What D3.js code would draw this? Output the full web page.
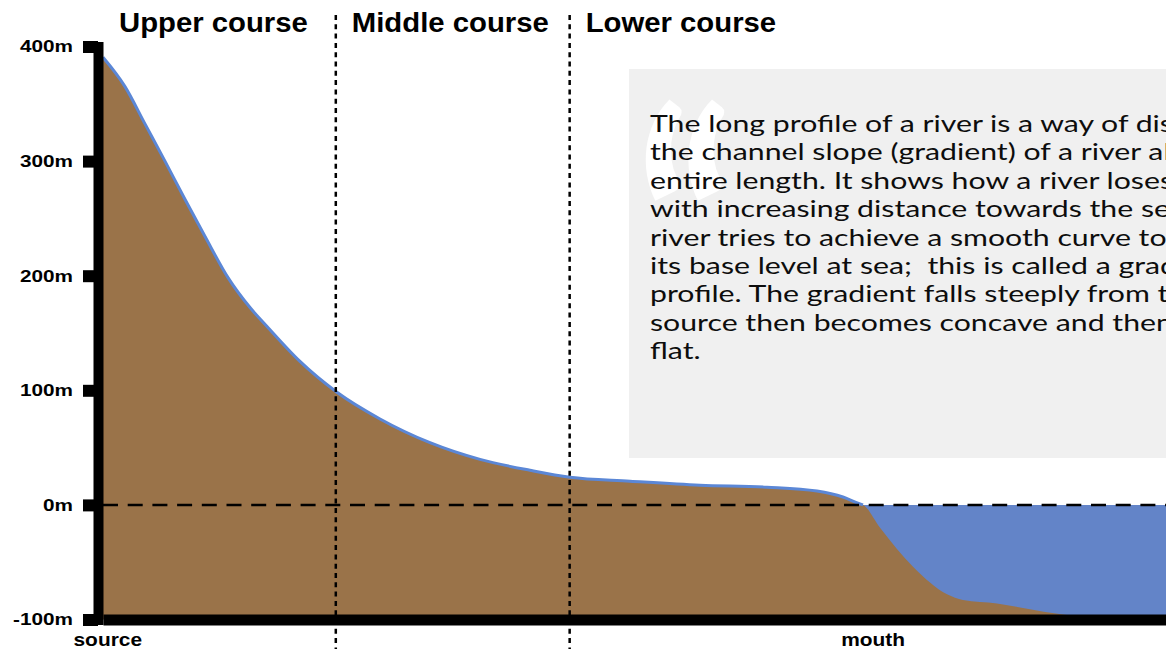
<!DOCTYPE html>
<html><head><meta charset="utf-8">
<script src="https://cdn.jsdelivr.net/npm/d3@7"></script>
<style>
html,body{margin:0;padding:0;background:#fff;overflow:hidden}
svg{display:block}
</style></head><body>
<svg id="chart" width="1166" height="649"></svg>
<script>
// ---- data ----
const distance  = [0, 2.07, 3.95, 5.83, 7.71, 9.60, 11.76, 13.83, 15.43, 18.53, 22.01, 26.06, 30.76, 35.47, 40.17, 43.93, 49.58, 56.16, 62.46, 67.17, 69.61, 71.21, 71.5, 73.1, 76.2, 79.4, 80.9, 84.1, 87.2, 89.8, 93.8, 100];
const elevation = [390.6, 365, 332.5, 300, 266.7, 234.2, 198.3, 172.2, 155.7, 125.2, 98.3, 75, 54.3, 39.7, 30.2, 24.1, 20.7, 17.2, 15.5, 12.1, 6.9, 0.9, 0, -20, -54, -78, -83, -86, -91, -95, -99, -100];
const seaLevel = 0;
const yTickValues = [400, 300, 200, 100, 0, -100];
const yTickLabels = ["400m", "300m", "200m", "100m", "0m", "-100m"];
const xLabelPositions = [0.4, 72.4];
const xLabelTexts = ["source", "mouth"];
const courseNames = ["Upper course", "Middle course", "Lower course"];
const courseStarts = [0, 21.9, 43.9];
const courseBoundaries = [21.9, 43.9];
const quoteLines = [
  "The long profile of a river is a way of displaying",
  "the channel slope (gradient) of a river along its",
  "entire length. It shows how a river loses height",
  "with increasing distance towards the sea. The",
  "river tries to achieve a smooth curve to reach",
  "its base level at sea;  this is called a graded",
  "profile. The gradient falls steeply from the",
  "source then becomes concave and then almost",
  "flat."
];

// ---- setup ----
const svg = d3.select("#chart");
const W = 1166, H = 649;
const x = d3.scaleLinear().domain([0, 100]).range([103, 1166]);
const y = d3.scaleLinear().domain([-100, 400]).range([619.5, 46.5]);
const pts = distance.map((d, i) => ({d, e: elevation[i]}));
const boldFont = "'Liberation Sans', Arial, Helvetica, sans-serif";

function stretch(sel, f) {
  sel.each(function() {
    const w = this.getComputedTextLength();
    d3.select(this).attr("textLength", w * f).attr("lengthAdjust", "spacingAndGlyphs");
  });
}

// annotation box
svg.append("rect").attr("x", 629).attr("y", 69).attr("width", W - 629).attr("height", 389).attr("fill", "#f0f0f0");
svg.append("g").attr("transform", "translate(635,350) scale(0.8,1)")
  .append("text").attr("x", 0).attr("y", 0)
  .attr("font-family", "Lato, sans-serif").attr("font-weight", 700)
  .attr("font-size", 321).attr("fill", "#ffffff").text("\u201C");
const paraLines = svg.selectAll("text.para").data(quoteLines).join("text").attr("class", "para")
  .attr("x", 650).attr("y", (d, i) => 132 + i * 28.4)
  .attr("font-family", "Lato, 'Open Sans', sans-serif")
  .attr("font-size", 24).attr("fill", "#0d0d0d")
  .attr("xml:space", "preserve").style("white-space", "pre").text(d => d);
stretch(paraLines, 1.26);

// sea
const seaPts = pts.filter(p => p.e <= seaLevel);
svg.append("path").datum(seaPts)
  .attr("fill", "#6384c8")
  .attr("d", d3.area().x(p => x(p.d)).y0(y(-100)).y1(y(seaLevel)));

// land
svg.append("path").datum(pts)
  .attr("fill", "#9a7349")
  .attr("d", d3.area().curve(d3.curveMonotoneX).x(p => x(p.d)).y0(y(-100)).y1(p => y(p.e)));

// river surface line
svg.append("path").datum(pts.filter(p => p.e >= seaLevel))
  .attr("fill", "none").attr("stroke", "#5b87d6").attr("stroke-width", 3)
  .attr("d", d3.line().curve(d3.curveMonotoneX).x(p => x(p.d)).y(p => y(p.e)));

// sea level dashed line
svg.append("line").attr("x1", x(0)).attr("x2", x(100)).attr("y1", y(seaLevel)).attr("y2", y(seaLevel))
  .attr("stroke", "#000").attr("stroke-width", 2.5).attr("stroke-dasharray", "15 9.7");

// course boundaries
svg.selectAll("line.course").data(courseBoundaries).join("line").attr("class", "course")
  .attr("x1", d => x(d)).attr("x2", d => x(d)).attr("y1", 15).attr("y2", H)
  .attr("stroke", "#000").attr("stroke-width", 2.5).attr("stroke-dasharray", "5 4.3");

// course titles
const titles = svg.selectAll("text.course").data(courseNames).join("text").attr("class", "course")
  .attr("x", (d, i) => x(courseStarts[i]) + 16).attr("y", 32)
  .attr("font-family", boldFont).attr("font-weight", 700).attr("font-size", 27).attr("fill", "#000")
  .text(d => d);
stretch(titles, 1.085);

// y axis
const yAxis = d3.axisLeft(y).tickValues(yTickValues).tickFormat((d, i) => yTickLabels[i])
  .tickSize(15).tickSizeOuter(0).tickPadding(10);
const gy = svg.append("g").attr("transform", "translate(98,0)").call(yAxis);
gy.select(".domain").attr("stroke", "#000").attr("stroke-width", 10).attr("stroke-linecap", "square");
gy.selectAll(".tick line").attr("stroke", "#000").attr("stroke-width", 12);
gy.selectAll(".tick text").attr("font-family", boldFont).attr("font-weight", 700).attr("font-size", 17).attr("fill", "#000");
stretch(gy.selectAll(".tick text"), 1.22);

// x axis
const xAxis = d3.axisBottom(x).tickValues(xLabelPositions).tickFormat((d, i) => xLabelTexts[i])
  .tickSize(0).tickSizeOuter(0).tickPadding(13);
const gx = svg.append("g").attr("transform", `translate(0,${y(-100)})`).call(xAxis);
gx.select(".domain").attr("stroke", "#000").attr("stroke-width", 11);
gx.selectAll(".tick text").attr("font-family", boldFont).attr("font-weight", 700).attr("font-size", 19).attr("fill", "#000");
stretch(gx.selectAll(".tick text"), 1.1);
</script>
</body></html>
